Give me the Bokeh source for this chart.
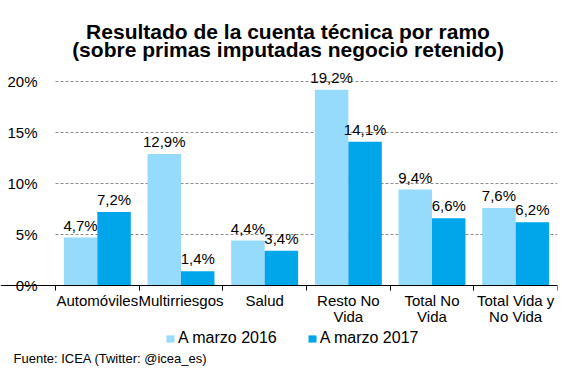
from bokeh.plotting import figure
from bokeh.models import (ColumnDataSource, Range1d, FixedTicker, PrintfTickFormatter,
                          LabelSet, Legend, LegendItem, Label)
from bokeh.core.properties import value
from bokeh.embed import file_html
from bokeh.resources import INLINE

categories = ["Automóviles", "Multirriesgos", "Salud", "Resto No\nVida", "Total No\nVida", "Total Vida y\nNo Vida"]
series_names = ["A marzo 2016", "A marzo 2017"]
marzo_2016 = [4.7, 12.9, 4.4, 19.2, 9.4, 7.6]
marzo_2017 = [7.2, 1.4, 3.4, 14.1, 6.6, 6.2]
y_ticks = [0, 5, 10, 15, 20]
title_lines = ["Resultado de la cuenta técnica por ramo", "(sobre primas imputadas negocio retenido)"]
source_text = "Fuente: ICEA (Twitter:  @icea_es)"

FONT = "Liberation Sans"
LIGHT = "#97DBFC"
DARK = "#00A5EA"

n = len(categories)
pos = list(range(1, n + 1))

def fmt(v):
    return f"{v:.1f}".replace(".", ",") + "%"

src16 = ColumnDataSource(dict(x=[p - 0.2 for p in pos], y=marzo_2016, lab=[fmt(v) for v in marzo_2016]))
src17 = ColumnDataSource(dict(x=[p + 0.2 for p in pos], y=marzo_2017, lab=[fmt(v) for v in marzo_2017]))
grid_src = ColumnDataSource(dict(x0=[0.5] * len(y_ticks), x1=[n + 0.5] * len(y_ticks), y=y_ticks))

# layout in pixels; the frame covers the whole figure
W, H = 568, 378
RIGHT = 11
PLOT_LEFT = 55                     # pixel column of the first category's left edge
ZERO_PX, TOP_PX = 285, 81          # pixel rows of 0% and 20% from the top
ppu = (ZERO_PX - TOP_PX) / 20.0
ppx = (W - RIGHT - PLOT_LEFT) / n
x_lo = 0.5 - PLOT_LEFT / ppx
y_lo = -(H - ZERO_PX) / ppu
y_hi = 20 + TOP_PX / ppu

p = figure(width=W, height=H, output_backend="svg", toolbar_location=None,
           x_range=Range1d(x_lo, n + 0.5), y_range=Range1d(y_lo, y_hi),
           min_border_left=0, min_border_right=RIGHT, min_border_top=0, min_border_bottom=0)
p.outline_line_color = None
p.background_fill_color = "white"
p.xgrid.grid_line_color = None
p.ygrid.grid_line_color = None

# dashed horizontal gridlines at the y ticks, spanning the category area
p.segment(x0="x0", x1="x1", y0="y", y1="y", source=grid_src, line_color="#8c8c8c",
          line_dash="3 2", line_width=1)

r16 = p.vbar(x="x", top="y", width=0.4, source=src16, fill_color=LIGHT, line_color=None)
r17 = p.vbar(x="x", top="y", width=0.4, source=src17, fill_color=DARK, line_color=None)

for src in (src16, src17):
    p.add_layout(LabelSet(x="x", y="y", text="lab", source=src, text_align="center",
                          text_baseline="alphabetic", y_offset=7, text_font=value(FONT),
                          text_font_size=value("15px"), text_color=value("black")))

# x axis fixed at 0%
xa = p.xaxis[0]
xa.fixed_location = 0
xa.ticker = FixedTicker(ticks=pos, minor_ticks=[i + 0.5 for i in range(n + 1)])
xa.major_label_overrides = {pp: c for pp, c in zip(pos, categories)}
xa.major_tick_line_color = None
xa.major_tick_out = 0
xa.major_tick_in = 0
xa.minor_tick_out = 5
xa.minor_tick_in = 0
xa.minor_tick_line_color = "black"
xa.axis_line_color = "black"
xa.major_label_text_font = FONT
xa.major_label_text_font_size = "15px"
xa.major_label_text_color = "black"
xa.major_label_text_line_height = 0.95
xa.major_label_standoff = 1

# y axis fixed at the left edge of the category area
ya = p.yaxis[0]
ya.fixed_location = 0.5
ya.ticker = FixedTicker(ticks=y_ticks)
ya.formatter = PrintfTickFormatter(format="%d%%")
ya.axis_line_color = None
ya.major_tick_line_color = None
ya.major_tick_out = 0
ya.major_tick_in = 0
ya.minor_tick_line_color = None
ya.major_label_text_font = FONT
ya.major_label_text_font_size = "15px"
ya.major_label_text_color = "black"
ya.major_label_standoff = 18

# title (two lines)
title_cx = 287.5
for line, base_px in zip(title_lines, (31, 49)):
    p.add_layout(Label(x=title_cx, y=H - base_px, x_units="screen", y_units="screen",
                       text=line, text_align="center", text_baseline="alphabetic",
                       text_font=FONT, text_font_size="21px", text_font_style="bold",
                       text_color="black"))

legend = Legend(items=[LegendItem(label=series_names[0], renderers=[r16]),
                       LegendItem(label=series_names[1], renderers=[r17])],
                orientation="horizontal", location=(165, 31),
                label_text_font=FONT, label_text_font_size="16px", label_text_color="black",
                glyph_width=10, glyph_height=9, spacing=30, padding=0, margin=0,
                label_standoff=3, border_line_color=None, background_fill_alpha=0)
p.add_layout(legend, "center")

p.add_layout(Label(x=13, y=20, x_units="screen", y_units="screen", text=source_text,
                   text_font=FONT, text_font_size="13px", text_color="black",
                   text_baseline="middle"))

open("out.html", "w").write(file_html(p, INLINE))
